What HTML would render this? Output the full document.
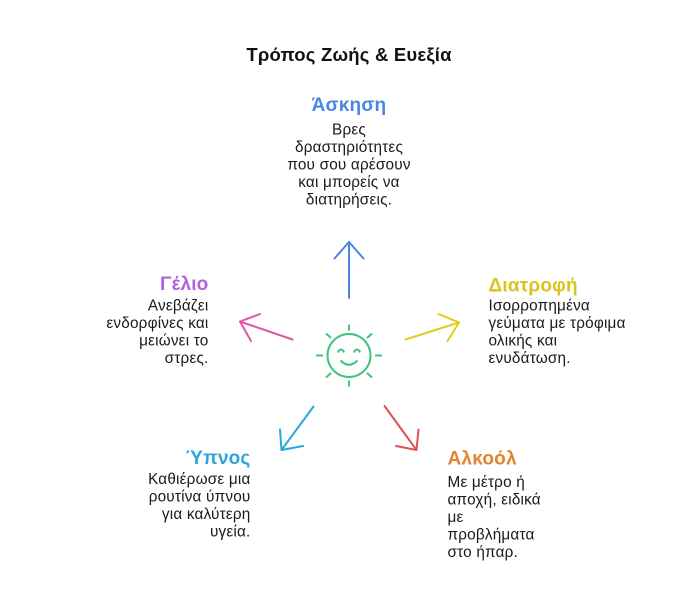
<!DOCTYPE html>
<html>
<head>
<meta charset="utf-8">
<style>
  html, body { margin: 0; padding: 0; background: #ffffff; }
  body { width: 697px; height: 592px; overflow: hidden; }
  svg { display: block; }
  text { font-family: "Liberation Sans", "DejaVu Sans", sans-serif; }
  .t { font-weight: bold; font-size: 19px; letter-spacing: 0.2px; }
  .b { font-size: 15.3px; fill: #1a1a1a; letter-spacing: 0.2px; }
</style>
</head>
<body>
<svg width="697" height="592" viewBox="0 0 697 592" xmlns="http://www.w3.org/2000/svg">
  <rect width="697" height="592" fill="#ffffff"/>

  <!-- Title -->
  <text x="349" y="61" text-anchor="middle" class="t" fill="#111111" style="font-size:18.5px">Τρόπος Ζωής &amp; Ευεξία</text>

  <!-- Άσκηση -->
  <text x="349" y="111" text-anchor="middle" class="t" fill="#4a86e3">Άσκηση</text>
  <text x="349" y="134.5" text-anchor="middle" class="b">Βρες</text>
  <text x="349" y="152" text-anchor="middle" class="b">δραστηριότητες</text>
  <text x="349" y="169.5" text-anchor="middle" class="b">που σου αρέσουν</text>
  <text x="349" y="187" text-anchor="middle" class="b">και μπορείς να</text>
  <text x="349" y="204.5" text-anchor="middle" class="b">διατηρήσεις.</text>

  <!-- Γέλιο -->
  <text x="208.5" y="290" text-anchor="end" class="t" fill="#b25fe0">Γέλιο</text>
  <text x="208.5" y="310.5" text-anchor="end" class="b">Ανεβάζει</text>
  <text x="208.5" y="328" text-anchor="end" class="b">ενδορφίνες και</text>
  <text x="208.5" y="345.5" text-anchor="end" class="b">μειώνει το</text>
  <text x="208.5" y="363" text-anchor="end" class="b">στρες.</text>

  <!-- Διατροφή -->
  <text x="488.5" y="291.5" class="t" fill="#d8c41c">Διατροφή</text>
  <text x="488.5" y="310.5" class="b">Ισορροπημένα</text>
  <text x="488.5" y="328" class="b">γεύματα με τρόφιμα</text>
  <text x="488.5" y="345.5" class="b">ολικής και</text>
  <text x="488.5" y="363" class="b">ενυδάτωση.</text>

  <!-- Ύπνος -->
  <text x="250.5" y="464" text-anchor="end" class="t" fill="#2ba6db">Ύπνος</text>
  <text x="250.5" y="484" text-anchor="end" class="b">Καθιέρωσε μια</text>
  <text x="250.5" y="501.5" text-anchor="end" class="b">ρουτίνα ύπνου</text>
  <text x="250.5" y="519" text-anchor="end" class="b">για καλύτερη</text>
  <text x="250.5" y="536.5" text-anchor="end" class="b">υγεία.</text>

  <!-- Αλκοόλ -->
  <text x="447.5" y="464.5" class="t" fill="#e2842c">Αλκοόλ</text>
  <text x="447.5" y="487" class="b">Με μέτρο ή</text>
  <text x="447.5" y="504.5" class="b">αποχή, ειδικά</text>
  <text x="447.5" y="522" class="b">με</text>
  <text x="447.5" y="539.5" class="b">προβλήματα</text>
  <text x="447.5" y="557" class="b">στο ήπαρ.</text>

  <!-- Arrows -->
  <g fill="none" stroke-width="2" stroke-linecap="round" stroke-linejoin="round">
    <g stroke="#4a86e3">
      <line x1="349" y1="298" x2="349" y2="242"/>
      <polyline points="334.5,258.5 349,242 363.5,258.5"/>
    </g>
    <g stroke="#e3cb1c">
      <line x1="405.5" y1="339.5" x2="459" y2="322.5"/>
      <polyline points="438.5,314 459,322.5 447.5,341"/>
    </g>
    <g stroke="#e055a8">
      <line x1="292.5" y1="339.5" x2="240" y2="321.5"/>
      <polyline points="260,314 240,321.5 251,341"/>
    </g>
    <g stroke="#2aa8dc">
      <line x1="313.5" y1="406.5" x2="281.5" y2="450"/>
      <polyline points="280,429.5 281.5,450 303,446"/>
    </g>
    <g stroke="#e05252">
      <line x1="384.5" y1="406" x2="416.5" y2="450"/>
      <polyline points="418.5,429.5 416.5,450 396,446"/>
    </g>
  </g>

  <!-- Sun -->
  <g fill="none" stroke="#3ec47d" stroke-width="2" stroke-linecap="butt">
    <circle cx="349" cy="355.5" r="21.5"/>
    <line x1="349" y1="324.5" x2="349" y2="330.5"/>
    <line x1="349" y1="380.5" x2="349" y2="386.5"/>
    <line x1="316" y1="355.5" x2="323" y2="355.5"/>
    <line x1="375" y1="355.5" x2="382" y2="355.5"/>
    <line x1="326" y1="333.5" x2="331" y2="338"/>
    <line x1="372" y1="333.5" x2="367" y2="338"/>
    <line x1="326" y1="377.5" x2="331" y2="373"/>
    <line x1="372" y1="377.5" x2="367" y2="373"/>
    <path d="M337.8 352.5 Q341 346.5 344.2 352.5"/>
    <path d="M353.8 352.5 Q357 346.5 360.2 352.5"/>
    <path d="M340.5 360.5 Q349 369 357.5 360.5"/>
  </g>
</svg>
</body>
</html>
